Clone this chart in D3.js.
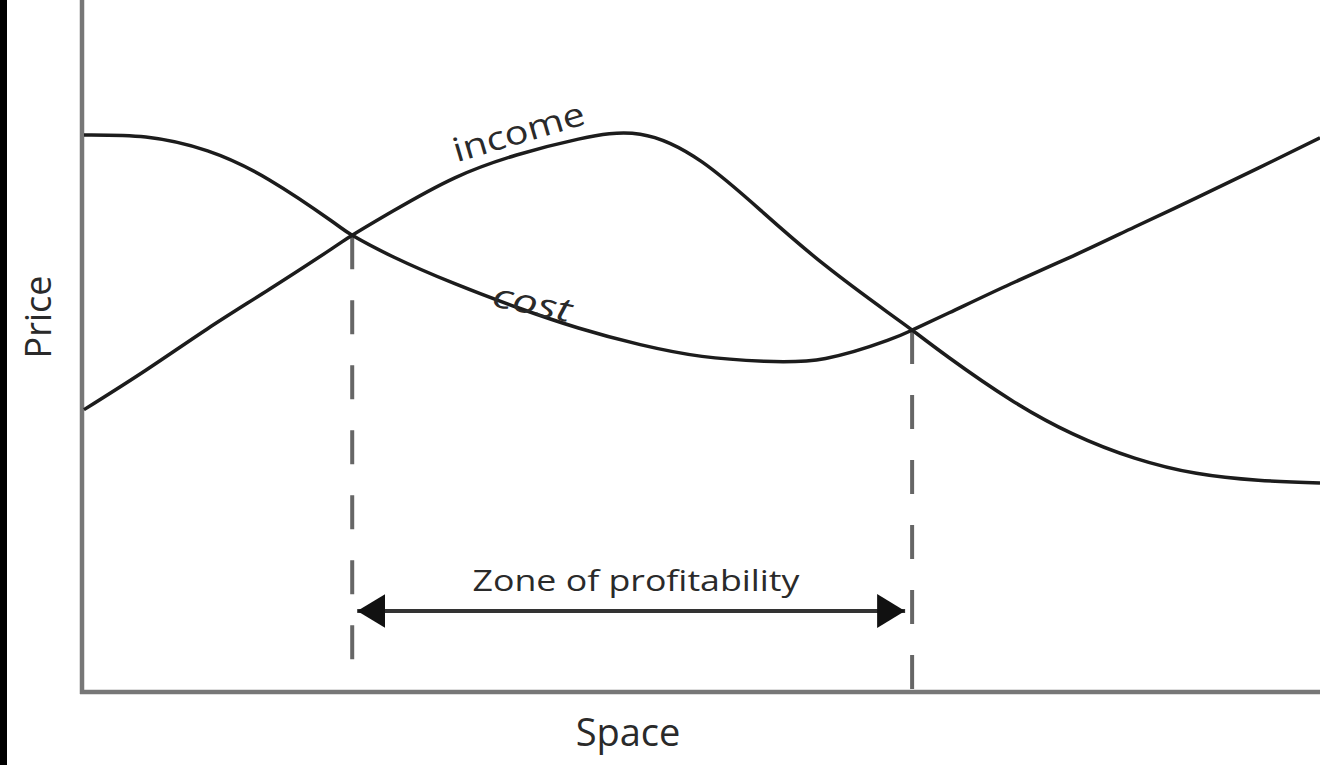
<!DOCTYPE html>
<html>
<head>
<meta charset="utf-8">
<script src="https://cdn.jsdelivr.net/npm/d3@7"></script>
<style>
  html, body { margin: 0; padding: 0; background: #fff; }
  svg { display: block; }
  text { font-family: "Open Sans", "Liberation Sans", sans-serif; fill: #2a2a2a; }
</style>
</head>
<body>
<svg id="chart" width="1320" height="765"></svg>
<script>
// ---- data (x: space 0–100, y: price 0–100) ----
const xs = [0, 5, 10, 15, 20, 21.7, 25, 30, 35, 40, 45, 50, 55, 60, 65, 67, 70, 75, 80, 85, 90, 95, 100];
const costValues = [80.5, 80.2, 78.2, 74.0, 68.1, 66.0, 62.9, 59.0, 55.6, 52.6, 50.2, 48.5, 47.8, 48.2, 50.8, 52.3, 54.8, 59.0, 63.0, 67.2, 71.4, 75.7, 80.1];
const incomeValues = [40.8, 46.5, 52.5, 58.2, 64.0, 66.0, 69.5, 74.3, 77.6, 79.9, 80.6, 76.6, 69.2, 61.6, 54.9, 52.3, 48.3, 42.2, 37.3, 33.8, 31.6, 30.6, 30.2];
const zoneBounds = [21.7, 67.0];   // intersections
const zoneLevel = 66.0, zoneLevel2 = 52.3;
const labels = { x: "Space", y: "Price", zone: "Zone of profitability", income: "income", cost: "cost" };

const svg = d3.select("#chart");
const W = 1320, H = 765;
const x = d3.scaleLinear().domain([0, 100]).range([84, 1320]);
const y = d3.scaleLinear().domain([0, 100]).range([692, 0]);

// black strip on left edge
svg.append("rect").attr("x", 0).attr("y", 0).attr("width", 7).attr("height", H).attr("fill", "#000");

// dashed verticals
const zoneTop = [zoneLevel, zoneLevel2];
zoneBounds.forEach((b, i) => {
  svg.append("line")
    .attr("x1", x(b)).attr("x2", x(b))
    .attr("y1", y(zoneTop[i])).attr("y2", y(0))
    .attr("stroke", "#666").attr("stroke-width", 4)
    .attr("stroke-dasharray", "34 31");
});

// axes
const xAxis = d3.axisBottom(x).ticks(0).tickSizeOuter(0);
const yAxis = d3.axisLeft(y).ticks(0).tickSizeOuter(0);
const gx = svg.append("g").attr("transform", `translate(0,${y(0)})`).call(xAxis);
const gy = svg.append("g").attr("transform", `translate(${x(0) - 2},0)`).call(yAxis);
[gx, gy].forEach(g => g.select(".domain").attr("stroke", "#777").attr("stroke-width", 4.5));
gx.select(".domain").attr("d", `M${x(0) - 4},0H${W}`);
gy.select(".domain").attr("d", `M0,${y(0) + 2}V0`);

// curves
const line = d3.line().x(d => x(d[0])).y(d => y(d[1])).curve(d3.curveNatural);
const costData = xs.map((v, i) => [v, costValues[i]]);
const incomeData = xs.map((v, i) => [v, incomeValues[i]]);
[costData, incomeData].forEach(data => {
  svg.append("path").attr("d", line(data))
    .attr("fill", "none").attr("stroke", "#1c1c1c").attr("stroke-width", 3.5);
});

// arrow
const defs = svg.append("defs");
defs.append("marker").attr("id", "arrow").attr("viewBox", "0 0 28 34")
  .attr("refX", 28).attr("refY", 17).attr("markerWidth", 28).attr("markerHeight", 34)
  .attr("markerUnits", "userSpaceOnUse").attr("orient", "auto-start-reverse")
  .append("path").attr("d", "M0,0L28,17L0,34Z").attr("fill", "#111");
const arrowY = 611;
svg.append("line")
  .attr("x1", x(zoneBounds[0]) + 5).attr("x2", x(zoneBounds[1]) - 7)
  .attr("y1", arrowY).attr("y2", arrowY)
  .attr("stroke", "#333").attr("stroke-width", 4)
  .attr("marker-start", "url(#arrow)").attr("marker-end", "url(#arrow)");

// texts
svg.append("text").attr("x", 636).attr("y", 591).attr("text-anchor", "middle")
  .attr("font-size", 30).attr("textLength", 327).attr("lengthAdjust", "spacingAndGlyphs")
  .text(labels.zone);

svg.append("text").attr("x", 628).attr("y", 746).attr("text-anchor", "middle")
  .attr("font-size", 38).text(labels.x);

svg.append("text").attr("transform", "translate(51,317) rotate(-90)").attr("text-anchor", "middle")
  .attr("font-size", 36).text(labels.y);

svg.append("text").attr("transform", "translate(522,143) rotate(-16.5)").attr("text-anchor", "middle")
  .attr("font-size", 33).attr("textLength", 136).attr("lengthAdjust", "spacingAndGlyphs")
  .text(labels.income);

svg.append("text").attr("transform", "translate(530,314) rotate(12)").attr("text-anchor", "middle")
  .attr("font-size", 33).attr("font-style", "italic").attr("textLength", 80).attr("lengthAdjust", "spacingAndGlyphs")
  .text(labels.cost);
</script>
</body>
</html>
